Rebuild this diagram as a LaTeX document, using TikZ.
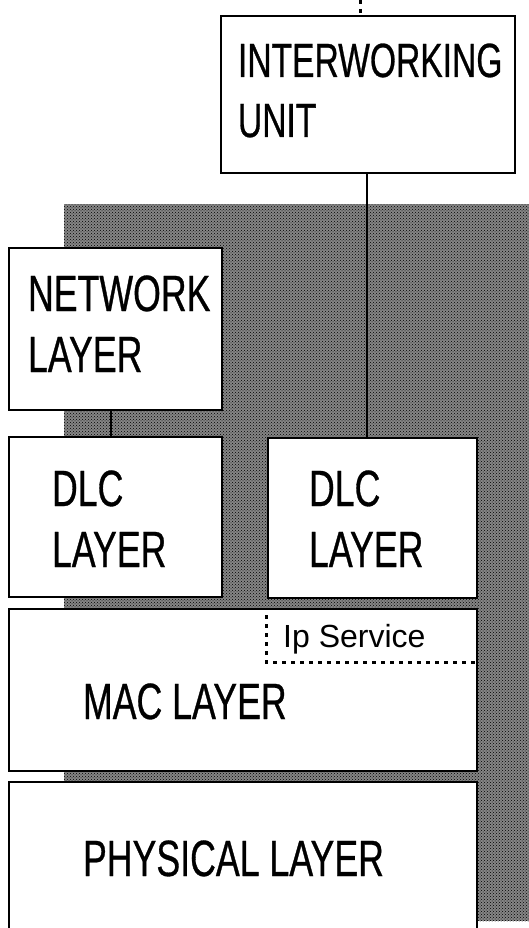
\documentclass[tikz,border=0pt]{standalone}
\usepackage{fontspec}
\setmainfont{Liberation Sans}
\newfontfamily\condf[FakeStretch=0.7,FakeBold=0.6]{Liberation Sans}
\usetikzlibrary{patterns}
\begin{document}
\begin{tikzpicture}[x=1pt,y=-1pt,
  layerbox/.style={draw=black, line width=2.6pt, fill=white, rectangle, anchor=north west, inner sep=0pt, outer sep=0pt},
  lbl/.style={anchor=base west, inner sep=0pt, outer sep=0pt, font=\condf\fontsize{51}{61}\selectfont, align=left},
  conn/.style={draw=black, line width=1.6pt},
  dotline/.style={draw=black, line width=3pt, dash pattern=on 4pt off 5pt},
  shade/.style={preaction={fill=black!48}, pattern=crosshatch dots, pattern color=black}
]
\useasboundingbox (0,0) rectangle (529,928);
% shaded background
\path[shade] (64,204) rectangle (545,921);
% boxes
\node[layerbox, minimum width=294pt, minimum height=157pt] (iwu) at (221,16) {};
\node[layerbox, minimum width=213pt, minimum height=162pt] (net) at (9,248) {};
\node[layerbox, minimum width=213pt, minimum height=160pt] (dlcl) at (9,437) {};
\node[layerbox, minimum width=209pt, minimum height=160pt] (dlcr) at (268,438) {};
\node[layerbox, minimum width=468pt, minimum height=162pt] (mac) at (9,609) {};
\node[layerbox, minimum width=468pt, minimum height=170pt] (phy) at (9,782) {};
% labels (base anchor = baseline of last line)
\node[lbl, font=\condf\fontsize{48}{60}\selectfont] (tiwu) at (238,137) {INTERWORKING\\UNIT};
\node[lbl] (tnet) at (28,372) {NETWORK\\LAYER};
\node[lbl] (tdlcl) at (52,567) {DLC\\LAYER};
\node[lbl] (tdlcr) at (309,567) {DLC\\LAYER};
\node[lbl] (tmac) at (83,719) {MAC LAYER};
\node[lbl] (tphy) at (83,876) {PHYSICAL LAYER};
\node[anchor=base west, inner sep=0pt, font=\fontsize{32}{38}\selectfont] (tip) at (283,647) {Ip Service};
% Ip service dashed boundary
\coordinate (ipa) at (266,615);
\coordinate (ipb) at (266,662);
\coordinate (ipc) at (476,662);
\draw[dotline] (ipa) -- (ipb) -- (ipc);
% connectors
\coordinate (topend) at (360,0);
\draw[dotline] (topend) -- (iwu.north -| topend);
\draw[conn] (iwu.south -| 367,0) -- (dlcr.north -| 367,0);
\draw[conn] (net.south -| 111,0) -- (dlcl.north -| 111,0);
\end{tikzpicture}
\end{document}
